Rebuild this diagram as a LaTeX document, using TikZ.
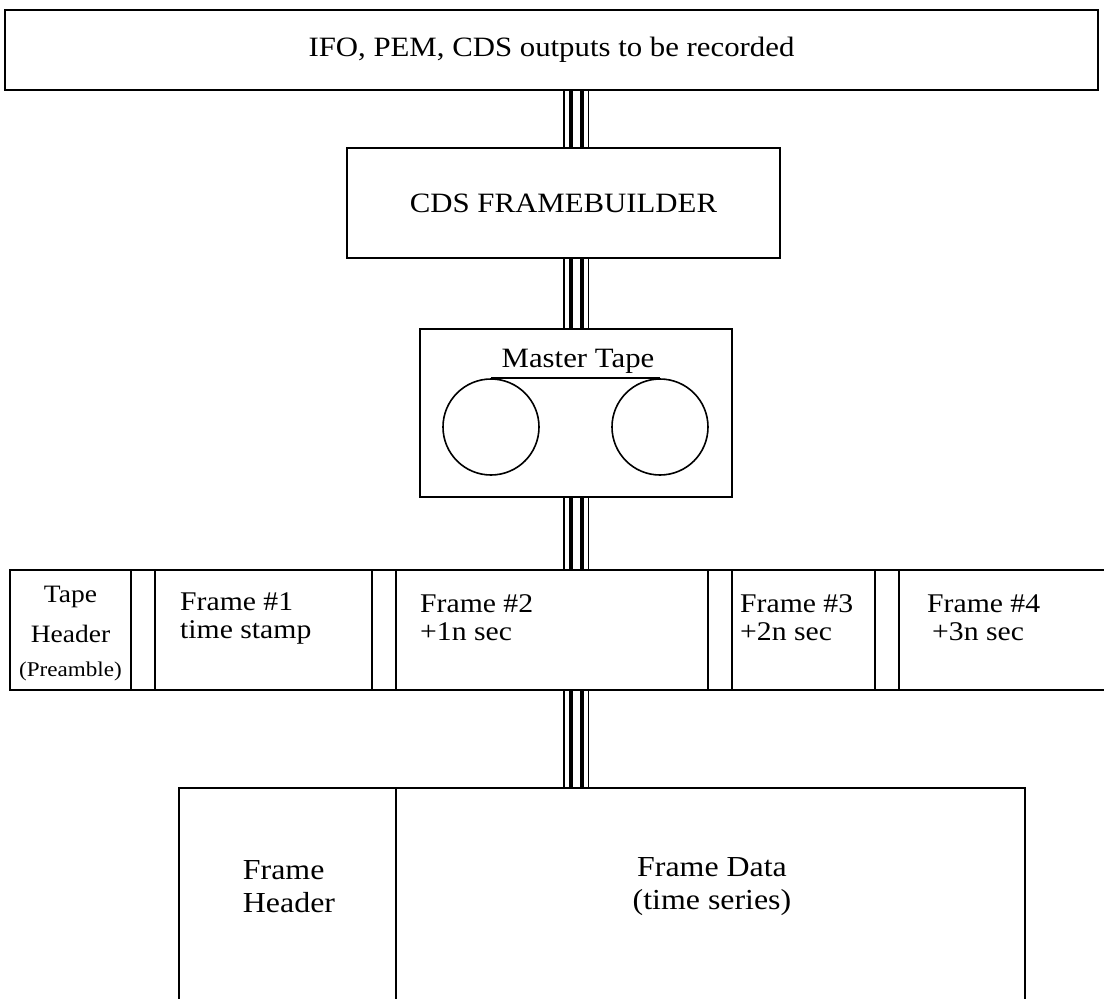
\documentclass[tikz,border=0pt]{standalone}
\usepackage{fontspec}
\setmainfont{Liberation Serif}[FakeStretch=1.1]
\begin{document}
\begin{tikzpicture}[x=1pt,y=-1pt,
  box/.style={draw,line width=1.6pt,inner sep=0pt},
  cell/.style={draw,line width=1.6pt,inner sep=0pt,minimum height=120pt},
  ghost/.style={inner sep=0pt},
  reel/.style={draw,line width=1.6pt},
  lbl/.style={font=\fontsize{28}{28}\selectfont},
  slbl/.style={font=\fontsize{27}{28}\selectfont,align=left,anchor=west,inner sep=0pt},
  hlbl/.style={font=\fontsize{25}{28}\selectfont,inner sep=0pt},
  bus/.style={line width=#1,line cap=butt}
]
\useasboundingbox (0,0) rectangle (1104,999);
% bus x positions
\coordinate (bx1) at (564,0);
\coordinate (bx2) at (570.5,0);
\coordinate (bx3) at (581.5,0);
\coordinate (bx4) at (588.5,0);

% top box
\node[box,minimum width=1093pt,minimum height=80pt,lbl] (top) at (551.5,50) {IFO, PEM, CDS outputs to be recorded};
% framebuilder
\node[box,minimum width=433pt,minimum height=110pt,lbl] (fb) at (563.5,203) {CDS FRAMEBUILDER};
% master tape
\node[box,minimum width=312pt,minimum height=168pt] (mt) at (576,413) {};
\node[lbl,inner sep=0pt] (mtt) at (578,361) {Master Tape};
\node[reel,circle,minimum size=96pt,inner sep=0pt] (r1) at (491,427) {};
\node[reel,circle,minimum size=96pt,inner sep=0pt] (r2) at (660,427) {};
\draw[line width=1.6pt] (r1.north) -- (r2.north);

% tape strip
\node[cell,minimum width=121pt] (th) at (70.5,630) {};
\node[cell,minimum width=24pt] (g1) at (143,630) {};
\node[cell,minimum width=217pt] (f1) at (263.5,630) {};
\node[cell,minimum width=24pt] (g2) at (384,630) {};
\node[cell,minimum width=312pt] (f2) at (552,630) {};
\node[cell,minimum width=24pt] (g3) at (720,630) {};
\node[cell,minimum width=143pt] (f3) at (803.5,630) {};
\node[cell,minimum width=24pt] (g4) at (887,630) {};
\node[ghost,minimum width=205pt,minimum height=120pt] (f4) at (1001.5,630) {};
\draw[line width=1.6pt] (f4.north east) -- (f4.north west) -- (f4.south west) -- (f4.south east);

\node[hlbl] (tht1) at (70.5,597) {Tape};
\node[hlbl] (tht2) at (70.5,634) {Header};
\node[inner sep=0pt,font=\fontsize{21}{22}\selectfont] (tht3) at (70.5,671) {(Preamble)};
\node[slbl] (f1t) at (180,618) {Frame \#1\\time stamp};
\node[slbl] (f2t) at (420,618) {Frame \#2\\+1n sec};
\node[slbl] (f3t) at (740,618) {Frame \#3\\+2n sec};
\node[slbl] (f4t) at (927,618) {Frame \#4\\\hspace*{5pt}+3n sec};

% bottom box (open at bottom)
\node[ghost,minimum width=217pt,minimum height=220pt] (fh) at (287.5,898) {};
\node[ghost,minimum width=629pt,minimum height=220pt] (fd) at (710.5,898) {};
\draw[line width=1.6pt] (fh.south west) -- (fh.north west) -- (fd.north east) -- (fd.south east);
\draw[line width=1.6pt] (fh.north east) -- (fh.south east);
\node[align=left,inner sep=0pt,font=\fontsize{29}{33}\selectfont] (fht) at (289,887) {Frame\\Header};
\node[align=center,inner sep=0pt,font=\fontsize{29}{33}\selectfont] (fdt) at (712,887) {Frame Data\\(time series)};

% bus connectors
\foreach \a/\b in {top.south/fb.north, fb.south/mt.north, mt.south/f2.north, f2.south/fd.north}{
  \draw[bus=1.5pt] (\a -| bx1) -- (\b -| bx1);
  \draw[bus=4pt] (\a -| bx2) -- (\b -| bx2);
  \draw[bus=4pt] (\a -| bx3) -- (\b -| bx3);
  \draw[bus=1.5pt] (\a -| bx4) -- (\b -| bx4);
}
\end{tikzpicture}
\end{document}
